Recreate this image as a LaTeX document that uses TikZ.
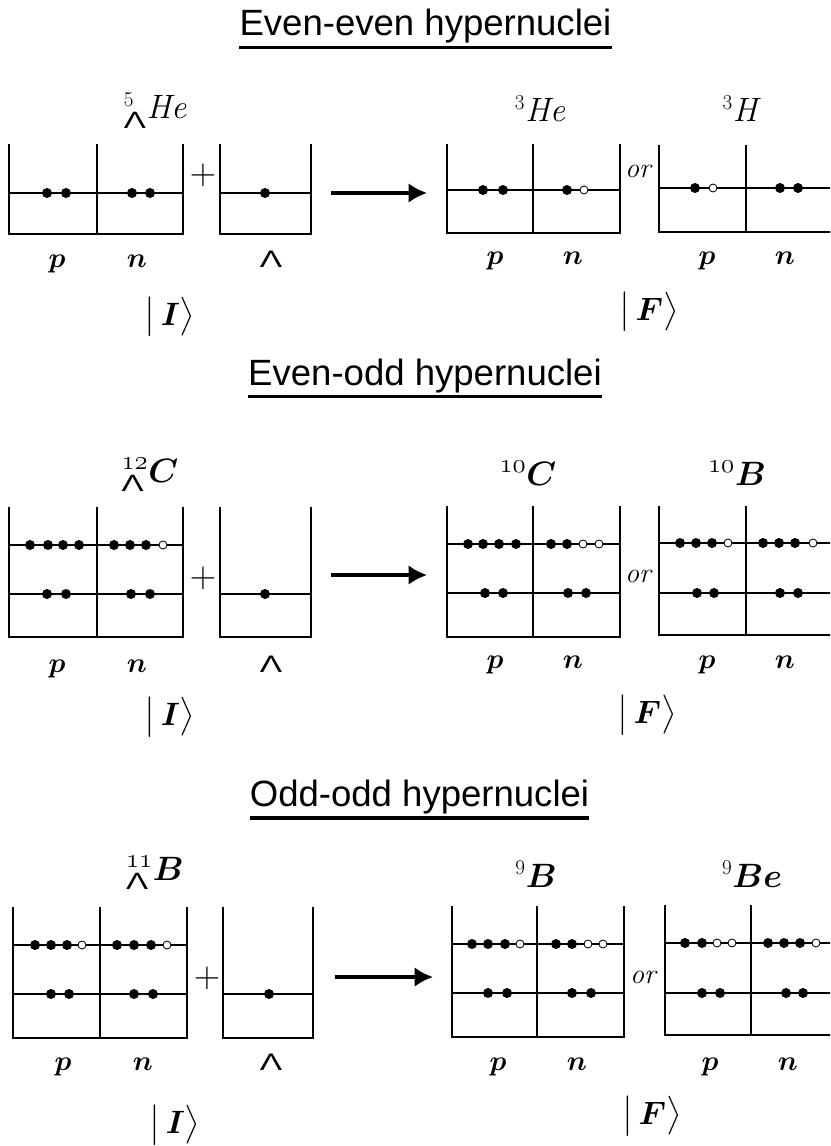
\RequirePackage{fix-cm}
\documentclass[tikz,border=0pt]{standalone}
\usepackage{amsmath}
\usepackage{amssymb}
\usepackage{graphicx}
\usepackage{fontspec}
\setsansfont{Liberation Sans}
\usepackage{tikz}
\usetikzlibrary{arrows.meta}

\newcommand{\lamsym}{\scalebox{1.4}[1]{\sffamily Λ}}
\newcommand{\massnum}[1]{\text{\fontsize{15}{15}\selectfont #1}}
\newcommand{\oldmass}[1]{\text{\fontsize{19}{19}\selectfont$\mathnormal{#1}$}}

\begin{document}
\begin{tikzpicture}[x=0.25cm, y=-0.25cm,
    wall/.style={line width=1.6pt},
    divider/.style={line width=0.8pt},
    hole/.style={draw, fill=white, line width=0.6pt},
    reaction/.style={line width=3pt, -{Latex[length=13pt, width=14pt]}},
    sectitle/.style={font=\sffamily\fontsize{26}{30}\selectfont, inner sep=0pt, anchor=base},
    uline/.style={line width=2.2pt},
    nucl/.style={font=\fontsize{24}{26}\selectfont, inner sep=0pt, anchor=base},
    quant/.style={font=\fontsize{20}{22}\selectfont, inner sep=0pt, anchor=base},
    lamlab/.style={font=\sffamily\fontsize{17}{18}\selectfont, inner sep=0pt, anchor=base},
    ket/.style={font=\fontsize{23}{26}\selectfont, inner sep=0pt},
    orlab/.style={font=\itshape\fontsize{20}{22}\selectfont, inner sep=0pt, anchor=base},
    plussign/.style={font=\fontsize{26}{28}\selectfont, inner sep=0pt}]
    \useasboundingbox (0,0) rectangle (83,114.6);
    \clip (0,0) rectangle (83,114.6);

    % ===== Even-even =====
    \node[sectitle] (ee) at (42.55,3.6) {Even-even hypernuclei};
    \draw[uline] ([yshift=-8.5pt]ee.base west) -- ([yshift=-8.5pt]ee.base east);

    % Hypernucleus 5He
    \draw[wall] (0.9,14.4) -- (0.9,23.4) -- (18.3,23.4) -- (18.3,14.4);
    \draw[divider] (9.7,14.4) -- (9.7,23.4) (0.9,19.3) -- (18.3,19.3);
    \foreach \x in {4.7,6.6,13.2,15.0} \fill (\x,19.3) circle (0.5);
    \node[nucl] (he5) at (15.5,11.9) {${}^{\massnum{5}}_{\text{\lamsym}}\mathit{He}$};
    \node[quant] (p1) at (5.7,26.8) {$\boldsymbol{p}$};
    \node[quant] (n1) at (13.7,26.8) {$\boldsymbol{n}$};
    \node[plussign] (plus1) at (20.3,17.5) {$+$};

    % Lambda well
    \draw[wall] (22.0,14.4) -- (22.0,23.4) -- (31.1,23.4) -- (31.1,14.4);
    \draw[divider] (22.0,19.3) -- (31.1,19.3);
    \fill (26.5,19.3) circle (0.5);
    \node[lamlab] (l1) at (27.1,26.8) {\lamsym};

    % Reaction arrow
    \coordinate (a1s) at (33.1,19.3);
    \coordinate (a1e) at (42.7,19.3);
    \draw[reaction] (a1s) -- (a1e);

    % Final 3He
    \draw[wall] (44.7,14.4) -- (44.7,23.3) -- (62.0,23.3) -- (62.0,14.4);
    \draw[divider] (53.3,14.4) -- (53.3,23.3) (44.7,19.0) -- (62.0,19.0);
    \foreach \x in {48.3,50.3,56.7} \fill (\x,19.0) circle (0.5);
    \draw[hole] (58.4,19.0) circle (0.4);
    \node[nucl] (he3) at (54.0,12.2) {${}^{\massnum{3}}\mathit{He}$};
    \node[quant] (p2) at (49.5,26.5) {$\boldsymbol{p}$};
    \node[quant] (n2) at (57.3,26.5) {$\boldsymbol{n}$};
    \node[orlab] (or1) at (63.8,17.8) {or};

    % Final 3H
    \draw[wall] (65.9,14.5) -- (65.9,23.2) -- (83.3,23.2) -- (83.3,14.5);
    \draw[divider] (74.6,14.5) -- (74.6,23.2) (65.9,18.8) -- (83.3,18.8);
    \foreach \x in {69.5,78.0,79.8} \fill (\x,18.8) circle (0.5);
    \draw[hole] (71.3,18.8) circle (0.4);
    \node[nucl] (h3) at (74.0,12.2) {${}^{\massnum{3}}\mathit{H}$};
    \node[quant] (p3) at (70.7,26.5) {$\boldsymbol{p}$};
    \node[quant] (n3) at (78.5,26.5) {$\boldsymbol{n}$};

    % States
    \node[ket] (ki1) at (17.0,31.7) {$\bigl|\,\boldsymbol{I}\bigr\rangle$};
    \node[ket] (kf1) at (64.9,31.2) {$\bigl|\,\boldsymbol{F}\bigr\rangle$};

    % ===== Even-odd =====
    \node[sectitle] (eo) at (42.5,38.5) {Even-odd hypernuclei};
    \draw[uline] ([yshift=-8.5pt]eo.base west) -- ([yshift=-8.5pt]eo.base east);

    % Hypernucleus 12C
    \draw[wall] (0.9,50.7) -- (0.9,63.7) -- (18.3,63.7) -- (18.3,50.7);
    \draw[divider] (9.7,50.7) -- (9.7,63.7) (0.9,54.5) -- (18.3,54.5) (0.9,59.4) -- (18.3,59.4);
    \foreach \x in {3.0,4.8,6.3,7.9,11.4,13.0,14.6} \fill (\x,54.5) circle (0.5);
    \draw[hole] (16.3,54.5) circle (0.4);
    \foreach \x in {4.7,6.6,13.1,15.0} \fill (\x,59.4) circle (0.5);
    \node[nucl] (c12) at (15.0,48.2) {${}^{\oldmass{12}}_{\text{\lamsym}}\boldsymbol{C}$};
    \node[quant] (p4) at (5.7,67.2) {$\boldsymbol{p}$};
    \node[quant] (n4) at (13.7,67.2) {$\boldsymbol{n}$};
    \node[plussign] (plus2) at (20.3,57.8) {$+$};

    % Lambda well
    \draw[wall] (22.0,50.7) -- (22.0,63.7) -- (31.1,63.7) -- (31.1,50.7);
    \draw[divider] (22.0,59.4) -- (31.1,59.4);
    \fill (26.5,59.4) circle (0.5);
    \node[lamlab] (l2) at (27.1,67.2) {\lamsym};

    % Reaction arrow
    \coordinate (a2s) at (33.1,57.5);
    \coordinate (a2e) at (42.7,57.5);
    \draw[reaction] (a2s) -- (a2e);

    % Final 10C
    \draw[wall] (44.7,50.6) -- (44.7,63.7) -- (62.0,63.7) -- (62.0,50.6);
    \draw[divider] (53.3,50.6) -- (53.3,63.7) (44.7,54.4) -- (62.0,54.4) (44.7,59.3) -- (62.0,59.3);
    \foreach \x in {46.8,48.3,49.9,51.6,55.1,56.7} \fill (\x,54.4) circle (0.5);
    \foreach \x in {58.3,59.9} \draw[hole] (\x,54.4) circle (0.4);
    \foreach \x in {48.5,50.3,56.8,58.6} \fill (\x,59.3) circle (0.5);
    \node[nucl] (c10) at (52.8,48.5) {${}^{\oldmass{10}}\boldsymbol{C}$};
    \node[quant] (p5) at (49.5,66.8) {$\boldsymbol{p}$};
    \node[quant] (n5) at (57.3,66.8) {$\boldsymbol{n}$};
    \node[orlab] (or2) at (63.8,58.2) {or};

    % Final 10B
    \draw[wall] (65.9,50.6) -- (65.9,63.5) -- (83.3,63.5) -- (83.3,50.6);
    \draw[divider] (74.6,50.6) -- (74.6,63.5) (65.9,54.3) -- (83.3,54.3) (65.9,59.3) -- (83.3,59.3);
    \foreach \x in {68.0,69.6,71.2,76.3,77.9,79.5} \fill (\x,54.3) circle (0.5);
    \foreach \x in {72.8,81.3} \draw[hole] (\x,54.3) circle (0.4);
    \foreach \x in {69.7,71.4,78.0,79.8} \fill (\x,59.3) circle (0.5);
    \node[nucl] (b10) at (73.7,48.5) {${}^{\oldmass{10}}\boldsymbol{B}$};
    \node[quant] (p6) at (70.7,66.8) {$\boldsymbol{p}$};
    \node[quant] (n6) at (78.5,66.8) {$\boldsymbol{n}$};

    % States
    \node[ket] (ki2) at (17.0,71.7) {$\bigl|\,\boldsymbol{I}\bigr\rangle$};
    \node[ket] (kf2) at (64.7,71.5) {$\bigl|\,\boldsymbol{F}\bigr\rangle$};

    % ===== Odd-odd =====
    \node[sectitle] (oo) at (41.95,80.6) {Odd-odd hypernuclei};
    \draw[uline] ([yshift=-8.5pt]oo.base west) -- ([yshift=-8.5pt]oo.base east);

    % Hypernucleus 11B
    \draw[wall] (1.3,90.7) -- (1.3,103.8) -- (18.7,103.8) -- (18.7,90.7);
    \draw[divider] (10.0,90.7) -- (10.0,103.8) (1.3,94.5) -- (18.7,94.5) (1.3,99.4) -- (18.7,99.4);
    \foreach \x in {3.5,5.1,6.7,11.7,13.4,15.1} \fill (\x,94.5) circle (0.5);
    \foreach \x in {8.2,16.7} \draw[hole] (\x,94.5) circle (0.4);
    \foreach \x in {5.1,6.9,13.4,15.3} \fill (\x,99.4) circle (0.5);
    \node[nucl] (b11) at (15.5,88.0) {${}^{\oldmass{11}}_{\text{\lamsym}}\boldsymbol{B}$};
    \node[quant] (p7) at (6.3,107.0) {$\boldsymbol{p}$};
    \node[quant] (n7) at (14.3,107.0) {$\boldsymbol{n}$};
    \node[plussign] (plus3) at (20.7,97.8) {$+$};

    % Lambda well
    \draw[wall] (22.3,90.7) -- (22.3,103.8) -- (31.3,103.8) -- (31.3,90.7);
    \draw[divider] (22.3,99.4) -- (31.3,99.4);
    \fill (26.9,99.4) circle (0.5);
    \node[lamlab] (l3) at (27.1,107.0) {\lamsym};

    % Reaction arrow
    \coordinate (a3s) at (33.5,97.7);
    \coordinate (a3e) at (43.3,97.7);
    \draw[reaction] (a3s) -- (a3e);

    % Final 9B
    \draw[wall] (45.2,90.6) -- (45.2,103.7) -- (62.4,103.7) -- (62.4,90.6);
    \draw[divider] (53.7,90.6) -- (53.7,103.7) (45.2,94.4) -- (62.4,94.4) (45.2,99.3) -- (62.4,99.3);
    \foreach \x in {47.2,48.8,50.5,55.6,57.2} \fill (\x,94.4) circle (0.5);
    \foreach \x in {52.0,58.8,60.3} \draw[hole] (\x,94.4) circle (0.4);
    \foreach \x in {48.8,50.7,57.2,59.1} \fill (\x,99.3) circle (0.5);
    \node[nucl] (b9) at (53.6,88.7) {${}^{\massnum{9}}\boldsymbol{B}$};
    \node[quant] (p8) at (49.8,107.0) {$\boldsymbol{p}$};
    \node[quant] (n8) at (57.7,107.0) {$\boldsymbol{n}$};
    \node[orlab] (or3) at (64.3,98.3) {or};

    % Final 9Be
    \draw[wall] (66.5,90.5) -- (66.5,103.5) -- (83.7,103.5) -- (83.7,90.5);
    \draw[divider] (75.1,90.5) -- (75.1,103.5) (66.5,94.3) -- (83.7,94.3) (66.5,99.3) -- (83.7,99.3);
    \foreach \x in {68.5,70.2,76.8,78.4,80.0} \fill (\x,94.3) circle (0.5);
    \foreach \x in {71.7,73.2,81.6} \draw[hole] (\x,94.3) circle (0.4);
    \foreach \x in {70.2,72.0,78.6,80.3} \fill (\x,99.3) circle (0.5);
    \node[nucl] (be9) at (75.2,88.7) {${}^{\massnum{9}}\boldsymbol{Be}$};
    \node[quant] (p9) at (71.0,107.0) {$\boldsymbol{p}$};
    \node[quant] (n9) at (78.8,107.0) {$\boldsymbol{n}$};

    % States
    \node[ket] (ki3) at (17.5,112.5) {$\bigl|\,\boldsymbol{I}\bigr\rangle$};
    \node[ket] (kf3) at (65.2,111.6) {$\bigl|\,\boldsymbol{F}\bigr\rangle$};
\end{tikzpicture}
\end{document}
